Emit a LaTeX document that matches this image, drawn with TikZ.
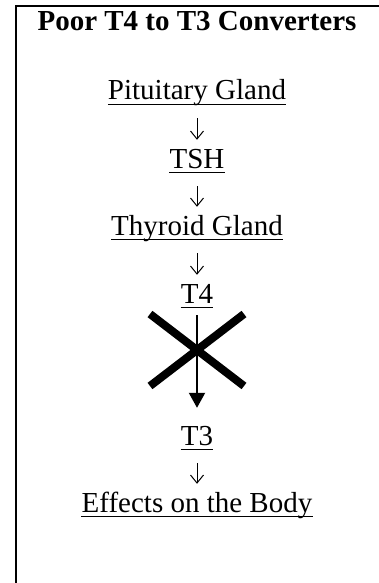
\documentclass[tikz,border=0pt]{standalone}
\usepackage{fontspec}
\setmainfont{Liberation Serif}
\usetikzlibrary{arrows.meta}
\begin{document}
\begin{tikzpicture}[x=1pt,y=-1pt,
  lbl/.style={anchor=base,inner sep=0pt,text height=20pt,text depth=6pt,
    font=\fontsize{29}{34}\selectfont},
  ttl/.style={anchor=base,inner sep=0pt,font=\fontsize{29}{34}\selectfont\bfseries},
  frame/.style={line width=2pt},
  uline/.style={line width=1.6pt},
  smallarrow/.style={line width=1pt,-{Straight Barb[length=8pt,width=13pt]},
    shorten <=12pt, shorten >=8pt},
  bigarrow/.style={line width=2pt,-{Triangle[length=15pt,width=16pt]},
    shorten <=6pt, shorten >=17pt},
  cross/.style={line width=8pt,line cap=butt}]
\useasboundingbox (0,0) rectangle (378,583);
% frame
\coordinate (fl) at (16,583);
\coordinate (fc) at (16,6);
\coordinate (fr) at (380,6);
\draw[frame] (fl) -- (fc) -- (fr);
% title
\node[ttl] (title) at (197,31) {Poor T4 to T3 Converters};
% chain
\node[lbl] (pit) at (197,100) {Pituitary Gland};
\node[lbl] (tsh) at (197,168) {TSH};
\node[lbl] (thy) at (197,235) {Thyroid Gland};
\node[lbl] (t4)  at (197,303) {T4};
\node[lbl] (t3)  at (197,445) {T3};
\node[lbl] (eff) at (197,512) {Effects on the Body};
% underlines
\foreach \n in {pit,tsh,thy,t4,t3,eff}{
  \draw[uline] ([yshift=-4.5pt]\n.base west) -- ([yshift=-4.5pt]\n.base east);
}
% arrows
\draw[smallarrow] (pit) -- (tsh);
\draw[smallarrow] (tsh) -- (thy);
\draw[smallarrow] (thy) -- (t4);
\draw[smallarrow] (t3) -- (eff);
\draw[bigarrow] (t4) -- (t3);
% cross
\coordinate (xa) at (150,314);
\coordinate (xb) at (244,386);
\coordinate (xc) at (244,314);
\coordinate (xd) at (150,386);
\draw[cross] (xa) -- (xb);
\draw[cross] (xc) -- (xd);
\end{tikzpicture}
\end{document}
